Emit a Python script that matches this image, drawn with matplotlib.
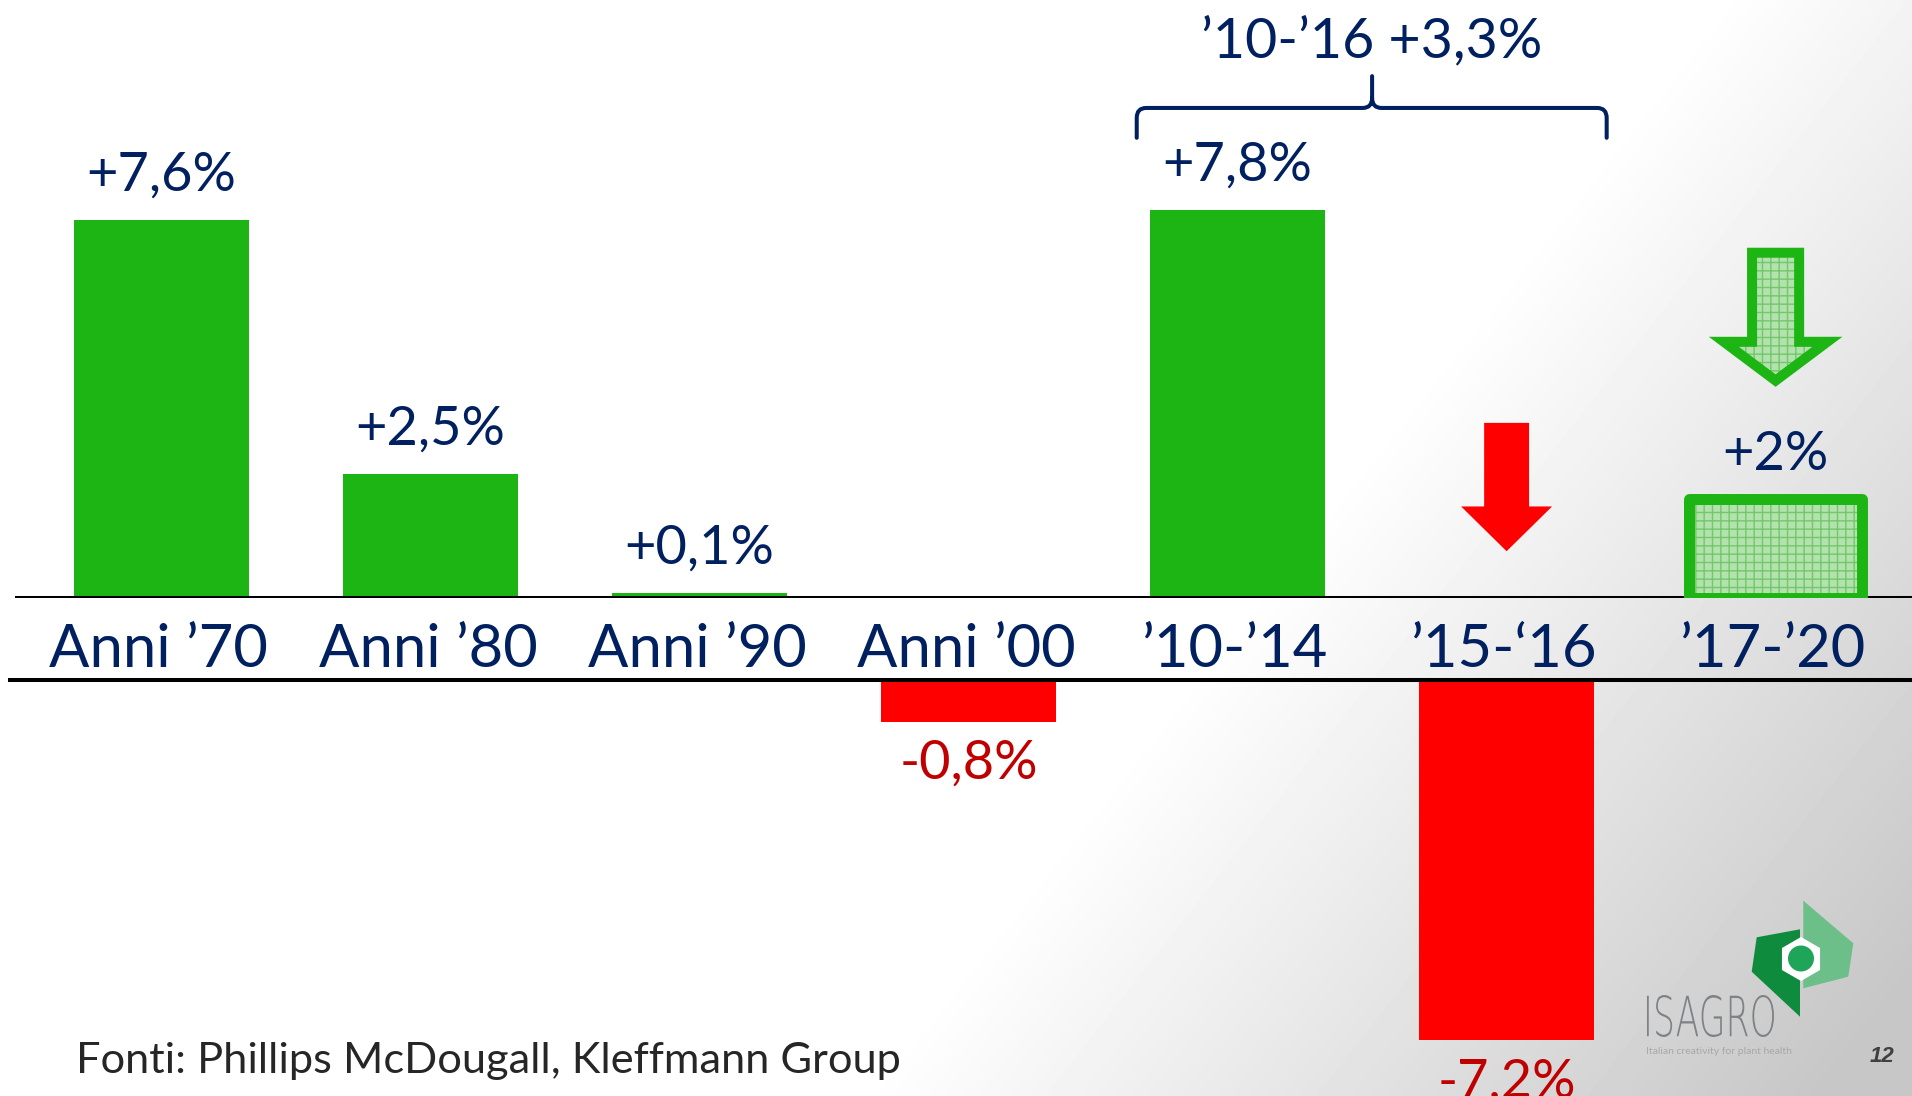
import numpy as np
import matplotlib
matplotlib.use("Agg")
import matplotlib.pyplot as plt
from matplotlib.patches import FancyArrow, Polygon, Circle, RegularPolygon, PathPatch
from matplotlib.path import Path
from matplotlib.textpath import TextPath
from matplotlib.font_manager import FontProperties
from matplotlib.transforms import Affine2D

# ---------------- data ----------------
categories = ["Anni ’70", "Anni ’80", "Anni ’90", "Anni ’00", "’10-’14", "’15-‘16", "’17-’20"]
growth = [7.6, 2.5, 0.1, -0.8, 7.8, -7.2, 2.0]
value_labels = ["+7,6%", "+2,5%", "+0,1%", "-0,8%", "+7,8%", "-7,2%", "+2%"]
forecast = [False, False, False, False, False, False, True]
period_label = "’10-’16 +3,3%"
period_span = [4, 5]
source_text = "Fonti: Phillips McDougall, Kleffmann Group"

# ---------------- style ----------------
GREEN = "#1DB513"
RED = "#FF0000"
NAVY = "#002060"
DARKRED = "#C00000"
LIGHTGREEN = "#B3E2AE"
HATCHGREEN = "#72C86B"
FONT = ["Lato", "DejaVu Sans"]
plt.rcParams["font.family"] = FONT
plt.rcParams["hatch.linewidth"] = 1.0

W, H = 1912, 1096
fig = plt.figure(figsize=(W / 100, H / 100), dpi=100)

# background gradient (white -> light grey towards bottom right)
bg = fig.add_axes([0, 0, 1, 1], zorder=-10)
xx, yy = np.meshgrid(np.linspace(0, 1, 400), np.linspace(0, 1, 230))
t = np.clip((xx + 0.45 * yy - 0.9) / 0.5, 0, 1)
shade = 1 - 0.22 * t
bg.imshow(shade, cmap="gray", vmin=0, vmax=1, extent=[0, W, H, 0],
          aspect="auto", interpolation="bilinear")
bg.set_xlim(0, W)
bg.set_ylim(H, 0)
bg.axis("off")

# scales
PX = 49.75      # pixels per percentage point
XPX = 269.0     # pixels per category
X0 = 161.6      # pixel position of first category
base_top = 598
base_bot = 682
xlim = (-X0 / XPX, (W - X0) / XPX)

axt = fig.add_axes([0, (H - base_top) / H, 1, base_top / H])
axt.set_xlim(*xlim)
axt.set_ylim(0, base_top / PX)
axt.axis("off")

axb = fig.add_axes([0, 0, 1, (H - base_bot) / H])
axb.set_xlim(*xlim)
axb.set_ylim(-(H - base_bot) / PX, 0)
axb.axis("off")

x = np.arange(len(categories))
g = np.array(growth)
fc = np.array(forecast)
pos = (g > 0) & ~fc
neg = g < 0
BW = 0.648

axt.bar(x[pos], g[pos], width=BW, color=GREEN, linewidth=0, zorder=2)
axb.bar(x[neg], g[neg], width=BW, color=RED, linewidth=0, zorder=2)

# forecast bar: hatched light green with thick green border
FW = 0.643
axt.bar(x[fc], g[fc], width=FW, color=LIGHTGREEN, linewidth=0, zorder=3)
axt.bar(x[fc], g[fc], width=FW, facecolor="none", edgecolor=HATCHGREEN,
        hatch="++", linewidth=0, zorder=3.1)
axt.bar(x[fc], g[fc], width=FW, facecolor="none", edgecolor=GREEN,
        linewidth=7.9, joinstyle="round", zorder=3.2)

# baselines
axt.axhline(0, xmin=17 / W, xmax=1, color="black", lw=2.9, zorder=2.5)
axb.axhline((base_bot - 680) / PX, xmin=10 / W, xmax=1, color="black", lw=2.9,
            zorder=2.5, clip_on=False)

# value labels
for xi, v, lab in zip(x, g, value_labels):
    if v > 0:
        axt.annotate(lab, (xi, v), xytext=(0, 32), textcoords="offset points",
                     ha="center", va="center", fontsize=39, color=NAVY,
                     annotation_clip=False)
    else:
        axb.annotate(lab, (xi, v), xytext=(0, -30), textcoords="offset points",
                     ha="center", va="center", fontsize=39, color=DARKRED,
                     annotation_clip=False)

# category labels
for xi, lab in zip(x, categories):
    axt.text(xi - 0.01, -(667 - base_top) / PX, lab, ha="center", va="baseline",
             fontsize=43, color=NAVY, clip_on=False)

# arrows
red_arrow = FancyArrow(x[5], 3.52, 0, -2.58, width=0.167, head_width=0.338,
                       head_length=0.9, length_includes_head=True,
                       color=RED, linewidth=0, zorder=4)
axt.add_patch(red_arrow)

def green_arrow(**kw):
    return FancyArrow(x[6], 6.94, 0, -2.57, width=0.175, head_width=0.385,
                      head_length=0.78, length_includes_head=True, zorder=4, **kw)

axt.add_patch(green_arrow(facecolor=LIGHTGREEN, linewidth=0))
axt.add_patch(green_arrow(facecolor="none", edgecolor=HATCHGREEN, hatch="++", linewidth=0))
axt.add_patch(green_arrow(facecolor="none", edgecolor=GREEN, linewidth=7.2,
                          joinstyle="miter"))

# bracket for the period
xl = period_span[0] - 0.375
xr = period_span[1] + 0.372
xc = (period_span[0] + period_span[1]) / 2
yh, yend, ypk = 9.85, 9.25, 10.49
rx, ry = 0.035, 0.2
verts = [(xl, yend), (xl, yh - ry), (xl, yh), (xl + rx, yh), (xc - rx, yh),
         (xc, yh), (xc, yh + ry), (xc, ypk),
         (xc, yh + ry), (xc, yh), (xc + rx, yh), (xr - rx, yh),
         (xr, yh), (xr, yh - ry), (xr, yend)]
codes = [Path.MOVETO, Path.LINETO, Path.CURVE3, Path.CURVE3, Path.LINETO,
         Path.CURVE3, Path.CURVE3, Path.LINETO,
         Path.MOVETO, Path.CURVE3, Path.CURVE3, Path.LINETO,
         Path.CURVE3, Path.CURVE3, Path.LINETO]
axt.add_patch(PathPatch(Path(verts, codes), facecolor="none", edgecolor=NAVY,
                        lw=2.9, capstyle="round", joinstyle="round",
                        clip_on=False, zorder=5))
axt.text(xc, 11.18, period_label, ha="center", va="center", fontsize=40,
         color=NAVY, clip_on=False)

# source
fig.text(76 / W, (H - 1073) / H, source_text, fontsize=31.2, color="#262626",
         va="baseline", ha="left")

# ---------------- logo (decoration) ----------------
bg.add_patch(Polygon([(1756.7, 937.3), (1800, 929.3), (1800, 1016.7), (1751.7, 971.7)],
                     closed=True, facecolor="#0F8B3D", edgecolor="none", zorder=2))
bg.add_patch(Polygon([(1803.3, 900.7), (1853.3, 943.3), (1848.3, 976.7), (1803.3, 988.3)],
                     closed=True, facecolor="#6DBF8A", edgecolor="none", zorder=2))
bg.add_patch(RegularPolygon((1801, 959), 6, radius=22, orientation=0,
                            facecolor="white", edgecolor="none", zorder=3))
bg.add_patch(Circle((1801, 958.5), 13, facecolor="#1FA55A", edgecolor="none", zorder=4))

tp = TextPath((0, 0), "ISAGRO", size=1, prop=FontProperties(family="DejaVu Sans", weight="light"))
ext = tp.get_extents()
tr = (Affine2D().translate(-ext.x0, -ext.y0)
      .scale(127 / ext.width, -42 / ext.height).translate(1647, 1037))
bg.add_patch(PathPatch(tr.transform_path(tp), facecolor="#7D8286", edgecolor="none", zorder=4))
bg.text(1646, 1052, "Italian creativity for plant health", fontsize=7.5, color="#A8A8A8",
        ha="left", va="center", zorder=4)
bg.text(1870, 1057, "12", fontsize=16, color="#404040", fontweight="bold", fontstyle="italic",
        family=["Liberation Sans", "DejaVu Sans"], ha="left", va="center", zorder=4)

fig.savefig("out.png", dpi=100)
